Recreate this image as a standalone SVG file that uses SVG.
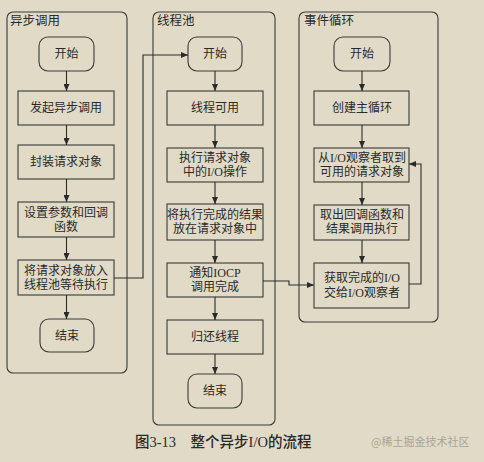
<svg xmlns="http://www.w3.org/2000/svg" width="484" height="462" viewBox="0 0 484 462">
<defs>
<marker id="ah" markerWidth="7" markerHeight="6" refX="7" refY="3" orient="auto" markerUnits="userSpaceOnUse"><path d="M0,0 L7,3 L0,6 Z" fill="#2a2a2a"/></marker>
<style>
.c{fill:none;stroke:#3a3a3a;stroke-width:1.1}
.n{fill:none;stroke:#3a3a3a;stroke-width:1.1}
.t{font-family:"Liberation Serif","Noto Sans CJK SC",serif;font-size:12px;fill:#2a2a2a;text-anchor:middle}
.h{font-family:"Liberation Serif","Noto Sans CJK SC",serif;font-size:12.5px;fill:#2a2a2a}
.l{fill:none;stroke:#2a2a2a;stroke-width:1.1;marker-end:url(#ah)}
</style>
</defs>
<rect width="484" height="462" fill="#e0dac6"/>
<g id="lane-async">
<rect class="c" x="7" y="12" width="120" height="361" rx="6"/>
<text class="h" x="10" y="25">异步调用</text>
</g>
<g id="lane-pool">
<rect class="c" x="153" y="12" width="122" height="413" rx="6"/>
<text class="h" x="157" y="25">线程池</text>
</g>
<g id="lane-loop">
<rect class="c" x="299" y="12" width="139" height="310" rx="6"/>
<text class="h" x="304" y="25">事件循环</text>
</g>
<g id="a-start"><rect class="n" x="39" y="37" width="55" height="34" rx="9"/><text class="t" x="66.5" y="58">开始</text></g>
<g id="a-1"><rect class="n" x="18" y="91" width="96" height="34"/><text class="t" x="66" y="112">发起异步调用</text></g>
<g id="a-2"><rect class="n" x="18" y="145" width="96" height="34"/><text class="t" x="66" y="166">封装请求对象</text></g>
<g id="a-3"><rect class="n" x="18" y="202" width="96" height="35"/><text class="t" x="66" y="217">设置参数和回调</text><text class="t" x="66" y="231">函数</text></g>
<g id="a-4"><rect class="n" x="18" y="260" width="96" height="35"/><text class="t" x="66" y="275">将请求对象放入</text><text class="t" x="66" y="289">线程池等待执行</text></g>
<g id="a-end"><rect class="n" x="40" y="319" width="54" height="33" rx="9"/><text class="t" x="67" y="340">结束</text></g>
<g id="p-start"><rect class="n" x="188" y="37" width="54" height="34" rx="9"/><text class="t" x="215" y="58">开始</text></g>
<g id="p-1"><rect class="n" x="167" y="91" width="96" height="34"/><text class="t" x="215" y="112">线程可用</text></g>
<g id="p-2"><rect class="n" x="167" y="148" width="96" height="34"/><text class="t" x="215" y="162">执行请求对象</text><text class="t" x="215" y="176">中的I/O操作</text></g>
<g id="p-3"><rect class="n" x="167" y="204" width="96" height="36"/><text class="t" x="215" y="219">将执行完成的结果</text><text class="t" x="215" y="233">放在请求对象中</text></g>
<g id="p-4"><rect class="n" x="167" y="263" width="96" height="34"/><text class="t" x="215" y="277">通知IOCP</text><text class="t" x="215" y="291">调用完成</text></g>
<g id="p-5"><rect class="n" x="167" y="320" width="96" height="34"/><text class="t" x="215" y="341">归还线程</text></g>
<g id="p-end"><rect class="n" x="188" y="374" width="54" height="34" rx="9"/><text class="t" x="215" y="395">结束</text></g>
<g id="e-start"><rect class="n" x="334" y="37" width="56" height="34" rx="9"/><text class="t" x="362" y="58">开始</text></g>
<g id="e-1"><rect class="n" x="314" y="91" width="95" height="34"/><text class="t" x="362" y="112">创建主循环</text></g>
<g id="e-2"><rect class="n" x="314" y="148" width="95" height="34"/><text class="t" x="362" y="162">从I/O观察者取到</text><text class="t" x="362" y="176">可用的请求对象</text></g>
<g id="e-3"><rect class="n" x="314" y="205" width="95" height="35"/><text class="t" x="362" y="219">取出回调函数和</text><text class="t" x="362" y="233">结果调用执行</text></g>
<g id="e-4"><rect class="n" x="314" y="263" width="95" height="45"/><text class="t" x="362" y="282">获取完成的I/O</text><text class="t" x="362" y="297">交给I/O观察者</text></g>
<g id="connectors">
<path class="l" d="M66.5,71 V91"/>
<path class="l" d="M66.5,125 V145"/>
<path class="l" d="M66.5,179 V202"/>
<path class="l" d="M66.5,237 V260"/>
<path class="l" d="M66.5,295 V319"/>
<path class="l" d="M114,278 H143 V55 H188"/>
<path class="l" d="M215,71 V91"/>
<path class="l" d="M215,125 V148"/>
<path class="l" d="M215,182 V204"/>
<path class="l" d="M215,240 V263"/>
<path class="l" d="M215,297 V320"/>
<path class="l" d="M215,354 V374"/>
<path class="l" d="M263,281 H289 V285 H314"/>
<path class="l" d="M362,71 V91"/>
<path class="l" d="M362,125 V148"/>
<path class="l" d="M362,182 V205"/>
<path class="l" d="M362,240 V263"/>
<path class="l" d="M409,284 H421 V164 H409"/>
</g>
<text x="135" y="447" style="font-family:'Liberation Serif','Noto Sans CJK SC',serif;font-size:14.5px;font-weight:500;fill:#2a2a2a">图3-13　整个异步I/O的流程</text>
<text x="371" y="446" style="font-family:'Noto Sans CJK SC',sans-serif;font-size:11px;fill:#a8a49a">@稀土掘金技术社区</text>
</svg>
